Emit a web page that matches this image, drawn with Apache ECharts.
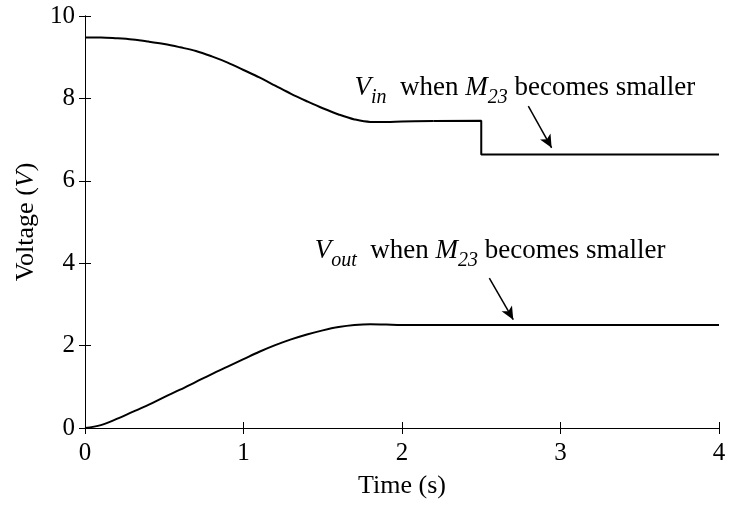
<!DOCTYPE html>
<html>
<head>
<meta charset="utf-8">
<script src="https://cdn.jsdelivr.net/npm/echarts@6/dist/echarts.min.js"></script>
<style>
  html, body { margin: 0; padding: 0; background: #fff; overflow: hidden; }
  #chart { width: 729px; height: 506px; }
</style>
</head>
<body>
<div id="chart"></div>
<script>
// Input voltage: smooth transient, then a step down at t = 2.5 s
const timeIn = [0, 0.1, 0.2, 0.3, 0.4, 0.5, 0.6, 0.7, 0.8, 0.9, 1.0, 1.1, 1.2, 1.3, 1.4, 1.5, 1.6, 1.7, 1.8, 1.9, 2.0, 2.2, 2.5, 2.5, 4.0];
const vIn    = [9.48, 9.48, 9.46, 9.43, 9.38, 9.32, 9.24, 9.15, 9.02, 8.87, 8.69, 8.51, 8.31, 8.11, 7.93, 7.76, 7.61, 7.49, 7.43, 7.43, 7.44, 7.45, 7.46, 6.64, 6.64];
const stepIndex = 21; // curved part ends here; remainder is drawn with straight segments

// Output voltage
const timeOut = [0, 0.1, 0.2, 0.3, 0.4, 0.5, 0.6, 0.7, 0.8, 0.9, 1.0, 1.1, 1.2, 1.3, 1.4, 1.5, 1.6, 1.7, 1.8, 1.9, 2.0, 2.2, 4.0];
const vOut    = [0, 0.07, 0.22, 0.39, 0.56, 0.75, 0.93, 1.12, 1.31, 1.49, 1.67, 1.85, 2.01, 2.15, 2.27, 2.37, 2.45, 2.50, 2.52, 2.51, 2.50, 2.50, 2.50];

const xTicks = [0, 1, 2, 3, 4];
const yTicks = [0, 2, 4, 6, 8, 10];

// Annotation anchors (data coordinates): text left/bottom, arrow start and end
const noteIn  = { text: [1.70, 7.78], from: [2.797, 7.81], to: [2.944, 6.80] };
const noteOut = { text: [1.45, 3.81], from: [2.551, 3.64], to: [2.702, 2.63] };

const FONT = 'Liberation Serif';

function pairs(xs, ys, a, b) {
  const out = [];
  for (let i = a; i < b; i++) out.push([xs[i], ys[i]]);
  return out;
}

const chart = echarts.init(document.getElementById('chart'));

const axisCommon = {
  type: 'value',
  axisLine: { show: true, lineStyle: { color: '#000', width: 1 } },
  axisTick: { show: true, inside: true, length: 6, lineStyle: { color: '#000', width: 1 } },
  splitLine: { show: false }
};

const arrowLine = (n) => ({
  silent: true,
  animation: false,
  symbol: ['none', 'arrow'],
  symbolSize: [9, 13],
  label: { show: false },
  lineStyle: { color: '#000', width: 1.5, type: 'solid' },
  emphasis: { disabled: true },
  data: [[{ coord: n.from }, { coord: n.to }]]
});

chart.setOption({
  animation: false,
  backgroundColor: '#fff',
  grid: { left: 85, right: 10, top: 16, bottom: 78, containLabel: false },
  xAxis: [
    Object.assign({}, axisCommon, {
      min: xTicks[0], max: xTicks[xTicks.length - 1], interval: 1,
      position: 'bottom',
      name: 'Time (s)', nameLocation: 'middle', nameGap: 45,
      nameTextStyle: { fontFamily: FONT, fontSize: 26, color: '#000' },
      axisLabel: { fontFamily: FONT, fontSize: 25, color: '#000', margin: 13 }
    }),
    Object.assign({}, axisCommon, {
      min: xTicks[0], max: xTicks[xTicks.length - 1], interval: 1,
      position: 'top', axisLabel: { show: false }
    })
  ],
  yAxis: [
    Object.assign({}, axisCommon, {
      min: yTicks[0], max: yTicks[yTicks.length - 1], interval: 2,
      position: 'left',
      name: '{n|Voltage (}{i|V}{n|)}', nameLocation: 'middle', nameGap: 39, nameRotate: 90,
      nameTextStyle: {
        fontFamily: FONT, fontSize: 26, color: '#000',
        rich: {
          n: { fontFamily: FONT, fontSize: 26, color: '#000' },
          i: { fontFamily: FONT, fontSize: 26, color: '#000', fontStyle: 'italic' }
        }
      },
      axisLabel: { fontFamily: FONT, fontSize: 25, color: '#000', margin: 10 }
    }),
    Object.assign({}, axisCommon, {
      min: yTicks[0], max: yTicks[yTicks.length - 1], interval: 2,
      position: 'right', axisLabel: { show: false }
    })
  ],
  series: [
    {
      name: 'Vin', type: 'line', xAxisIndex: 0, yAxisIndex: 0,
      data: pairs(timeIn, vIn, 0, stepIndex + 1),
      smooth: 0.35, showSymbol: false, silent: true,
      lineStyle: { color: '#000', width: 2 },
      markLine: arrowLine(noteIn)
    },
    {
      name: 'Vin step', type: 'line', xAxisIndex: 0, yAxisIndex: 0,
      data: pairs(timeIn, vIn, stepIndex, timeIn.length),
      smooth: false, showSymbol: false, silent: true,
      lineStyle: { color: '#000', width: 2 }
    },
    {
      name: 'Vout', type: 'line', xAxisIndex: 0, yAxisIndex: 0,
      data: pairs(timeOut, vOut, 0, timeOut.length),
      smooth: 0.35, showSymbol: false, silent: true,
      lineStyle: { color: '#000', width: 2 },
      markLine: arrowLine(noteOut)
    }
  ]
});

// Annotation labels with italic subscripted symbols
const richStyles = {
  v:   { fontFamily: FONT, fontSize: 27, fontStyle: 'italic', lineHeight: 40, fill: '#000' },
  t:   { fontFamily: FONT, fontSize: 27, lineHeight: 40, fill: '#000' },
  sub: { fontFamily: FONT, fontSize: 20, fontStyle: 'italic', lineHeight: 18, verticalAlign: 'bottom', fill: '#000' }
};

function noteGraphic(note, subscript) {
  const p = chart.convertToPixel({ xAxisIndex: 0, yAxisIndex: 0 }, note.text);
  return {
    type: 'text', silent: true, x: p[0], y: p[1],
    style: {
      text: '{v|V}{sub|' + subscript + '}{t|  when }{v|M}{sub|23}{t| becomes smaller}',
      rich: richStyles,
      fontFamily: FONT, fontSize: 27, fill: '#000',
      align: 'left', verticalAlign: 'bottom'
    }
  };
}

chart.setOption({
  graphic: [noteGraphic(noteIn, 'in'), noteGraphic(noteOut, 'out')]
});
</script>
</body>
</html>
